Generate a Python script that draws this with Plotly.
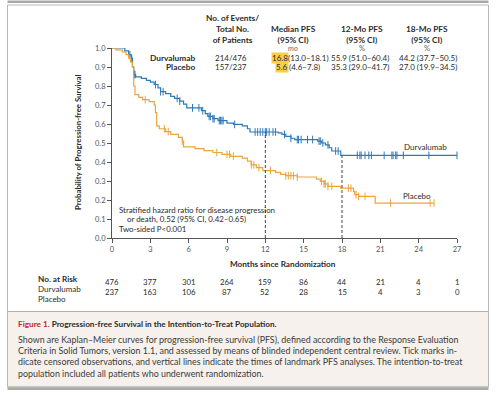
import numpy as np
import plotly.graph_objects as go

# ---------------- data ----------------
durva_t = [0, 1.0, 1.3, 1.5, 1.6, 1.7, 1.85, 2.3, 2.7, 3.0, 3.3, 3.6, 3.8, 4.2, 4.6, 4.9, 5.3, 5.6, 5.85,
           7.0, 7.3, 7.5, 7.9, 8.3, 9.0, 9.5, 10.2, 10.6, 10.8, 13.0, 13.3, 13.6, 14.0, 14.3, 16.1, 16.4,
           16.7, 17.0, 17.2, 17.9]
durva_s = [1.0, 0.985, 0.965, 0.945, 0.90, 0.86, 0.848, 0.84, 0.83, 0.82, 0.808, 0.79, 0.77, 0.76, 0.745,
           0.735, 0.72, 0.705, 0.685, 0.67, 0.655, 0.64, 0.628, 0.618, 0.605, 0.598, 0.59, 0.575, 0.558,
           0.553, 0.545, 0.535, 0.525, 0.518, 0.51, 0.50, 0.49, 0.475, 0.458, 0.435]
durva_cens = [1.4, 1.55, 1.75, 1.8, 3.4, 3.8, 4.0, 5.1, 5.3, 6.3, 6.8, 7.1, 7.6, 7.7, 7.9, 8.0, 8.4, 8.5,
              8.6, 8.7, 9.6, 11.2, 11.4, 11.6, 11.8, 12.0, 12.1, 12.3, 12.6, 12.8, 13.5, 14.0, 14.5, 14.6,
              14.8, 15.3, 15.7, 16.2, 16.3, 16.5, 16.9, 17.5, 17.7, 19.2, 19.4, 19.5, 19.8, 20.1, 20.3,
              21.3, 21.9, 22.0, 22.2, 22.3, 22.8, 24.8, 27.0]

plac_t = [0, 0.3, 0.8, 1.1, 1.3, 1.45, 1.6, 1.7, 1.8, 2.1, 2.4, 2.9, 3.3, 3.4, 3.5, 3.7, 4.2, 4.6, 5.2,
          5.5, 5.6, 6.5, 7.2, 7.9, 8.6, 9.3, 10.2, 10.6, 10.9, 11.3, 11.8, 12.8, 13.2, 13.6, 14.5, 16.0,
          16.3, 16.6, 16.9, 17.9, 18.9, 19.0, 19.3, 20.6]
plac_s = [1.0, 0.99, 0.98, 0.965, 0.947, 0.925, 0.90, 0.80, 0.755, 0.74, 0.728, 0.718, 0.70, 0.66, 0.59,
          0.575, 0.56, 0.545, 0.53, 0.51, 0.48, 0.47, 0.46, 0.45, 0.44, 0.43, 0.42, 0.405, 0.385, 0.37,
          0.355, 0.345, 0.335, 0.328, 0.321, 0.31, 0.298, 0.285, 0.272, 0.262, 0.245, 0.228, 0.219, 0.184]
plac_cens = [2.6, 4.1, 4.4, 5.5, 8.2, 9.0, 9.2, 9.5, 10.9, 11.1, 11.5, 12.4, 13.6, 13.8, 14.0, 14.2, 14.5,
             16.4, 16.6, 16.7, 16.9, 17.2, 18.5, 18.7, 19.1, 19.3, 19.8, 21.8, 24.9, 25.2]

months = [0, 3, 6, 9, 12, 15, 18, 21, 24, 27]
risk_durva = [476, 377, 301, 264, 159, 86, 44, 21, 4, 1]
risk_plac = [237, 163, 106, 87, 52, 28, 15, 4, 3, 0]
landmarks = [12, 18]

y_ticks = [0.0, 0.1, 0.2, 0.3, 0.4, 0.5, 0.6, 0.7, 0.8, 0.9, 1.0]

BLUE = "#2e7ab8"
ORANGE = "#eaa53e"
FONT = "Lato"
TXT = "#2b2b2b"


def step_at(ts, ss, t):
    i = np.searchsorted(np.array(ts), t, side="right") - 1
    return np.array(ss)[i]


fig = go.Figure()
for ts, ss, cens, col in [(durva_t, durva_s, durva_cens, BLUE), (plac_t, plac_s, plac_cens, ORANGE)]:
    end = max(cens)
    xs = list(ts) + [end]
    ys = list(ss) + [ss[-1]]
    fig.add_trace(go.Scatter(x=xs, y=ys, mode="lines", line=dict(color=col, width=1.2, shape="hv"),
                             hoverinfo="skip", showlegend=False, cliponaxis=False))
    cy = [step_at(ts, ss, c) for c in cens]
    fig.add_trace(go.Scatter(x=cens, y=cy, mode="markers",
                             marker=dict(symbol="line-ns", size=5.5, line=dict(color=col, width=1)),
                             hoverinfo="skip", showlegend=False, cliponaxis=False))

# landmark dashed lines
for lm in landmarks:
    fig.add_shape(type="line", xref="x", yref="y", x0=lm, x1=lm, y0=0, y1=step_at(durva_t, durva_s, lm),
                  line=dict(color="#444", width=1, dash="3px,2px"))

# page mapping helpers
L, T, W, H = 112, 48, 345, 190


def PX(px):
    return (px - L) / W


def PY(py):
    return (T + H - py) / H


ann = []


def text(px, py, s, size=8, color=TXT, xa="center", ya="middle", **kw):
    ann.append(dict(x=PX(px), y=PY(py), xref="paper", yref="paper", text=s, showarrow=False,
                    xanchor=xa, yanchor=ya, font=dict(family=FONT, size=size, color=color), **kw))


# header table
text(232, 28.5, "<b>No. of Events/<br>Total No.<br>of Patients</b>", size=8.3)
text(293, 34, "<b>Median PFS<br>(95% CI)</b>", size=8.3)
text(362, 34, "<b>12-Mo PFS<br>(95% CI)</b>", size=8.3)
text(427, 34, "<b>18-Mo PFS<br>(95% CI)</b>", size=8.3)
text(293, 48, "<i>mo</i>", size=7.5, color="#666")
text(362, 48, "%", size=7.5, color="#666")
text(427, 48, "%", size=7.5, color="#666")
text(197, 57.5, "<b>Durvalumab</b>", size=8.3, xa="right")
text(197, 66.8, "<b>Placebo</b>", size=8.3, xa="right")
text(231, 57.5, "214/476", size=8)
text(231, 66.8, "157/237", size=8)
text(271, 58, "16.8", size=8, xa="left", bgcolor="#f8cf45", borderpad=0)
text(285.5, 58, "(13.0–18.1)", size=8, xa="left")
text(275, 67, "5.6", size=8, xa="left", bgcolor="#f8cf45", borderpad=0)
text(286.5, 67, "(4.6–7.8)", size=8, xa="left")
text(360, 58, "55.9 (51.0–60.4)", size=8)
text(360, 67, "35.3 (29.0–41.7)", size=8)
text(428, 58, "44.2 (37.7–50.5)", size=8)
text(428, 67, "27.0 (19.9–34.5)", size=8)

# curve labels
text(402, 147, "Durvalumab", size=8, xa="left")
text(401, 195.5, "Placebo", size=8, xa="left")

# hazard ratio text
text(116.5, 209.5, "Stratified hazard ratio for disease progression", size=7.9, xa="left")
text(125, 219.3, "or death, 0.52 (95% CI, 0.42–0.65)", size=7.9, xa="left")
text(116.5, 228.5, "Two-sided P&lt;0.001", size=7.9, xa="left")

# axis titles
text(78, 143, "<b>Probability of Progression-free Survival</b>", size=7.8, textangle=-90)
text(283, 263.5, "<b>Months since Randomization</b>", size=8.2)

# number at risk
text(36, 279, "<b>No. at Risk</b>", size=8.2, xa="left")
text(36, 289.3, "Durvalumab", size=8, xa="left")
text(36, 298.5, "Placebo", size=8, xa="left")
for m, a, b in zip(months, risk_durva, risk_plac):
    ann.append(dict(x=m, y=PY(289.3), xref="x", yref="paper", text=str(a), showarrow=False,
                    font=dict(family=FONT, size=7.8, color=TXT)))
    ann.append(dict(x=m, y=PY(298.5), xref="x", yref="paper", text=str(b), showarrow=False,
                    font=dict(family=FONT, size=7.8, color=TXT)))

# caption
text(16, 324, "<b><span style='color:#c4262e'>Figure 1.</span> Progression-free Survival in the Intention-to-Treat Population.</b>",
     size=8.2, xa="left")
cap = ["Shown are Kaplan–Meier curves for progression-free survival (PFS), defined according to the Response Evaluation",
       "Criteria in Solid Tumors, version 1.1, and assessed by means of blinded independent central review. Tick marks in-",
       "dicate censored observations, and vertical lines indicate the times of landmark PFS analyses. The intention-to-treat",
       "population included all patients who underwent randomization."]
for i, line in enumerate(cap):
    text(16, 339 + i * 11.4, line, size=8.9, color="#3a3a3a", xa="left")

# frame shapes (paper coords)
shapes = [
    dict(type="rect", xref="paper", yref="paper", x0=PX(7.5), x1=PX(488.5), y0=PY(311.5), y1=PY(387),
         fillcolor="#f6f1ec", line=dict(color="#b5b0aa", width=1), layer="below"),
    dict(type="rect", xref="paper", yref="paper", x0=PX(7.5), x1=PX(488.5), y0=PY(387), y1=PY(5),
         fillcolor="rgba(0,0,0,0)", line=dict(color="#b8b8b8", width=1), layer="below"),
    dict(type="rect", xref="paper", yref="paper", x0=PX(7.5), x1=PX(488.5), y0=PY(3), y1=PY(0.5),
         fillcolor="#a9a9a9", line=dict(width=0), layer="below"),
    dict(type="rect", xref="paper", yref="paper", x0=PX(7.5), x1=PX(488.5), y0=PY(390), y1=PY(387.5),
         fillcolor="#a9a9a9", line=dict(width=0), layer="below"),
]
for s in shapes:
    fig.add_shape(**s)

fig.update_layout(
    width=500, height=395,
    margin=dict(l=L, r=500 - L - W, t=T, b=395 - T - H),
    paper_bgcolor="white", plot_bgcolor="white",
    annotations=ann,
    font=dict(family=FONT, color=TXT),
    xaxis=dict(range=[0, 27], tickvals=months, ticks="outside", ticklen=4, tickwidth=1, tickcolor="#555",
               showline=True, linecolor="#555", linewidth=1, showgrid=False, zeroline=False,
               tickfont=dict(family=FONT, size=7.5, color="#555"), fixedrange=True),
    yaxis=dict(range=[0, 1.0], tickvals=y_ticks, tickformat=".1f", ticks="outside", ticklen=4, tickwidth=1,
               tickcolor="#555", showline=True, linecolor="#555", linewidth=1, showgrid=False,
               zeroline=False, tickfont=dict(family=FONT, size=7.5, color="#555"), fixedrange=True),
)

fig.write_html("out.html", config={"displayModeBar": False},
               post_script="document.body.style.margin='0';document.body.style.overflow='hidden';")
